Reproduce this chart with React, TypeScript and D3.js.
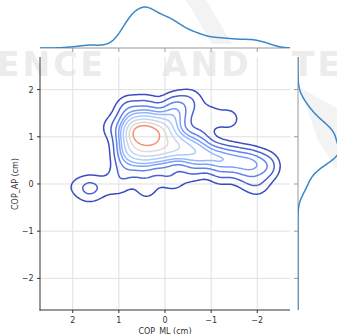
import React from "react";
import * as d3 from "d3";

// Estimated samples (COP_ML, COP_AP) with weights
const copML = [0.75, 0.5, 0.25, 0.0, 0.7, 0.35, 0.0, -0.3, 0.8, 0.4, -0.2, -0.55, -1.4, -0.95, 0.8, 0.5, 0.2, -0.1, -0.45, -0.8, -1.15, -1.5, -1.85, -2.2, -0.3, -0.7, 0.85, 0.45, 0.0, -0.6, -1.2, -1.7, -2.0, 1.0, 0.4, -0.2, 1.65, 1.35, 2.0, 1.15];
const copAP = [1.05, 1.08, 1.05, 1.1, 1.3, 1.35, 1.35, 1.4, 1.6, 1.65, 1.65, 1.75, 1.38, 1.42, 0.7, 0.7, 0.7, 0.75, 0.7, 0.62, 0.55, 0.5, 0.45, 0.38, 0.95, 0.95, 0.35, 0.35, 0.3, 0.3, 0.2, 0.15, 0.0, 0.0, -0.1, 0.05, -0.1, -0.05, -0.05, 1.2];
const weights = [2.5, 3.5, 3, 2, 1.5, 1.5, 1.2, 1, 0.8, 0.6, 1.0, 0.7, 0.5, 0.55, 2, 2.5, 2.5, 2.5, 2.2, 2, 1.8, 1.6, 1.6, 1.1, 1.2, 0.8, 0.8, 0.8, 0.6, 0.6, 0.5, 0.45, 0.6, 0.5, 0.5, 0.4, 0.85, 0.3, 0.25, 0.5];

const xTicks = [2, 1, 0, -1, -2];
const yTicks = [-2, -1, 0, 1, 2];
const levelProportions = [0.05, 0.156, 0.261, 0.367, 0.472, 0.578, 0.683, 0.789, 0.894];
const levelColors = ["#3b4cc0", "#4961d2", "#6282ea", "#7b9ff9", "#96b7ff", "#afcafc", "#c6d6f1", "#e2d9d4", "#f29274"];

const BW2D = 0.2;
const BW1D = 0.2;

export default function App() {
  const W = 337, H = 334;
  const xS = d3.scaleLinear().domain([2.71, -2.71]).range([40, 290]);
  const yS = d3.scaleLinear().domain([-2.67, 2.69]).range([310, 57]);

  // density grid
  const gx0 = -3, gx1 = 3, gy0 = -3, gy1 = 3, n = 180;
  const dx = (gx1 - gx0) / n, dy = (gy1 - gy0) / n;
  const values = new Float64Array(n * n);
  for (let j = 0; j < n; j++) {
    const yv = gy0 + (j + 0.5) * dy;
    for (let i = 0; i < n; i++) {
      const xv = gx0 + (i + 0.5) * dx;
      let s = 0;
      for (let k = 0; k < copML.length; k++) {
        const a = (xv - copML[k]) / BW2D, b = (yv - copAP[k]) / BW2D;
        s += weights[k] * Math.exp(-0.5 * (a * a + b * b));
      }
      values[j * n + i] = s;
    }
  }
  const sorted = Array.from(values).sort((a, b) => a - b);
  const total = d3.sum(sorted);
  const cum: number[] = [];
  let acc = 0;
  for (const v of sorted) { acc += v; cum.push(acc / total); }
  const thresholds = levelProportions.map((p) => sorted[d3.bisectLeft(cum, p)]);
  const contours = d3.contours().size([n, n]).thresholds(thresholds)(Array.from(values));
  const proj = d3.geoTransform({
    point(x: number, y: number) {
      (this as any).stream.point(xS(gx0 + x * dx), yS(gy0 + y * dy));
    },
  });
  const path = d3.geoPath(proj);

  // marginal KDEs
  const gridX = d3.range(-3, 3.0001, 0.02);
  const kde = (arr: number[]) => gridX.map((g) => {
    let s = 0;
    for (let k = 0; k < arr.length; k++) {
      const a = (g - arr[k]) / BW1D;
      s += weights[k] * Math.exp(-0.5 * a * a);
    }
    return s;
  });
  const dX = kde(copML);
  const dY = kde(copAP);
  const topS = d3.scaleLinear().domain([0, d3.max(dX)! * 1.05]).range([48, 5]);
  const rightS = d3.scaleLinear().domain([0, d3.max(dY)! * 1.05]).range([298, 341]);
  const topLine = d3.line<number>().x((_, i) => xS(gridX[i])).y((d) => topS(d)).curve(d3.curveBasis)(dX);
  const rightLine = d3.line<number>().x((d) => rightS(d)).y((_, i) => yS(gridX[i])).curve(d3.curveBasis)(dY);

  const font = "DejaVu Sans, sans-serif";
  const fmt = (v: number) => (v < 0 ? "\u2212" + Math.abs(v) : String(v));

  return (
    <svg width={W} height={H} style={{ position: "absolute", left: 0, top: 0 }} fontFamily={font}>
      <defs>
        <clipPath id="mainClip"><rect x={40} y={57} width={250} height={253} /></clipPath>
        <clipPath id="topClip"><rect x={40} y={0} width={250} height={48} /></clipPath>
        <clipPath id="rightClip"><rect x={298} y={57} width={60} height={253} /></clipPath>
      </defs>
      <rect width={W} height={H} fill="#fff" />
      {/* watermark */}
      <g fill="#ececec" fontWeight="bold" fontSize={33} letterSpacing={3}>
        <text x={-3} y={76}>ENCE</text>
        <text x={162} y={76}>AND</text>
        <text x={292} y={76}>TE</text>
      </g>
      <path d="M186,0 L206,0 L232,44 L212,44 Z" fill="#f3f3f3" />
      <path d="M300,88 L337,108 L337,170 L318,140 Z" fill="#f3f3f3" />

      {/* grid */}
      <g stroke="#e0e0e0" strokeWidth={1}>
        {xTicks.map((t) => <line key={"gx" + t} x1={xS(t)} x2={xS(t)} y1={57} y2={310} />)}
        {yTicks.map((t) => <line key={"gy" + t} x1={40} x2={290} y1={yS(t)} y2={yS(t)} />)}
      </g>

      {/* contours */}
      <g clipPath="url(#mainClip)" fill="none" strokeWidth={1.5}>
        {contours.map((c, i) => <path key={i} d={path(c as any) || ""} stroke={levelColors[i]} />)}
      </g>

      {/* main axes */}
      <g stroke="#333" strokeWidth={1}>
        <line x1={40} x2={40} y1={57} y2={310.5} />
        <line x1={39.5} x2={290} y1={310} y2={310} />
        {xTicks.map((t) => <line key={"tx" + t} x1={xS(t)} x2={xS(t)} y1={310} y2={313} />)}
        {yTicks.map((t) => <line key={"ty" + t} x1={37} x2={40} y1={yS(t)} y2={yS(t)} />)}
      </g>
      <g fontSize={8} fill="#333">
        {xTicks.map((t) => <text key={"lx" + t} x={xS(t)} y={322.5} textAnchor="middle">{fmt(t)}</text>)}
        {yTicks.map((t) => <text key={"ly" + t} x={33.5} y={yS(t) + 3} textAnchor="end">{fmt(t)}</text>)}
        <text x={165} y={334} textAnchor="middle">COP_ML (cm)</text>
        <text transform="translate(17.5,184) rotate(-90)" textAnchor="middle">COP_AP (cm)</text>
      </g>

      {/* top marginal */}
      <g stroke="#999" strokeWidth={1}>
        <line x1={40} x2={290} y1={48} y2={48} />
        {xTicks.map((t) => <line key={"mx" + t} x1={xS(t)} x2={xS(t)} y1={48} y2={52} />)}
      </g>
      <path d={topLine || ""} fill="none" stroke="#3a87c8" strokeWidth={1.5} clipPath="url(#topClip)" />

      {/* right marginal */}
      <g stroke="#999" strokeWidth={1}>
        <line x1={298} x2={298} y1={57} y2={310} />
        {yTicks.map((t) => <line key={"my" + t} x1={294} x2={298} y1={yS(t)} y2={yS(t)} />)}
      </g>
      <path d={rightLine || ""} fill="none" stroke="#3a87c8" strokeWidth={1.5} clipPath="url(#rightClip)" />
    </svg>
  );
}
